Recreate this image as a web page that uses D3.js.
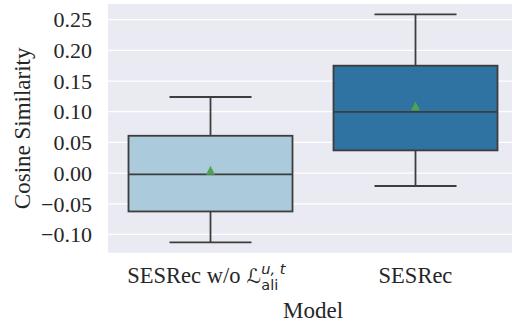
<!DOCTYPE html>
<html><head><meta charset="utf-8">
<script src="https://cdn.jsdelivr.net/npm/d3@7"></script>
<style>body{margin:0;background:#fff}svg{display:block}</style>
</head><body>
<script>
const categories = ["SESRec w/o", "SESRec"];
const whiskerLow = [-0.113, -0.021];
const q1 = [-0.0625, 0.037];
const median = [-0.002, 0.0999];
const q3 = [0.0608, 0.175];
const whiskerHigh = [0.124, 0.2587];
const means = [0.003, 0.1075];
const yTicks = [-0.10, -0.05, 0.00, 0.05, 0.10, 0.15, 0.20, 0.25];
const boxColors = ["#abcbdd", "#2e73a2"];

(function () {
const W = 512, H = 325;
const svg = d3.select("body").append("svg").attr("width", W).attr("height", H);
const pL = 108, pR = 518, pT = 4, pB = 252.7;
const x = d3.scaleBand().domain(d3.range(categories.length)).range([pL, pR]).paddingInner(0).paddingOuter(0);
const y = d3.scaleLinear().domain([-0.1297, 0.2755]).range([pB, pT]);
const font = "'Liberation Serif','Times New Roman',serif";

svg.append("rect").attr("x", pL).attr("y", pT).attr("width", pR - pL).attr("height", pB - pT).attr("fill", "#eaeaf2");
svg.append("g").selectAll("line").data(yTicks).join("line")
  .attr("x1", pL).attr("x2", pR).attr("y1", d => y(d)).attr("y2", d => y(d))
  .attr("stroke", "#fff").attr("stroke-width", 1.3);

const yAxis = d3.axisLeft(y).tickValues(yTicks).tickSize(0).tickPadding(16)
  .tickFormat(d => d3.format(".2f")(d).replace("-", "\u2212"));
const ga = svg.append("g").attr("transform", `translate(${pL},0)`).call(yAxis);
ga.select(".domain").remove();
ga.selectAll("text").attr("font-family", font).attr("font-size", 22).attr("fill", "#262626").attr("dy", "0.33em");

const bw = x.bandwidth() * 0.8;
const stroke = "#3d3d3d", sw = 1.8;
const g = svg.append("g");
categories.forEach((c, i) => {
  const cx = x(i) + x.bandwidth() / 2;
  g.append("line").attr("x1", cx).attr("x2", cx).attr("y1", y(whiskerHigh[i])).attr("y2", y(q3[i])).attr("stroke", stroke).attr("stroke-width", sw);
  g.append("line").attr("x1", cx).attr("x2", cx).attr("y1", y(q1[i])).attr("y2", y(whiskerLow[i])).attr("stroke", stroke).attr("stroke-width", sw);
  [whiskerHigh[i], whiskerLow[i]].forEach(v => g.append("line").attr("x1", cx - bw / 4).attr("x2", cx + bw / 4).attr("y1", y(v)).attr("y2", y(v)).attr("stroke", stroke).attr("stroke-width", sw));
  g.append("rect").attr("x", cx - bw / 2).attr("width", bw).attr("y", y(q3[i])).attr("height", y(q1[i]) - y(q3[i]))
    .attr("fill", boxColors[i]).attr("stroke", stroke).attr("stroke-width", sw);
  g.append("line").attr("x1", cx - bw / 2).attr("x2", cx + bw / 2).attr("y1", y(median[i])).attr("y2", y(median[i])).attr("stroke", stroke).attr("stroke-width", sw);
  const my = y(means[i]);
  g.append("path").attr("d", `M${cx},${my - 5.5}L${cx + 4.5},${my + 3.5}L${cx - 4.5},${my + 3.5}Z`).attr("fill", "#4fa350");
});

const lblY = 283;
const cx1 = x(1) + x.bandwidth() / 2;
svg.append("text").attr("x", cx1).attr("y", lblY).attr("text-anchor", "middle").attr("font-family", font).attr("font-size", 22.5).attr("fill", "#262626").text(categories[1]);

const lab = svg.append("g").attr("transform", "translate(127.3,0)");
const t0 = lab.append("text").attr("x", 0).attr("y", lblY).attr("font-family", font).attr("font-size", 22.5).attr("fill", "#262626").text(categories[0]);
const w0 = t0.node().getComputedTextLength() + 6;
const L = lab.append("text").attr("x", w0).attr("y", lblY).attr("font-family", "'DejaVu Sans',sans-serif").attr("font-style", "italic").attr("font-size", 20).attr("fill", "#262626").text("\u2112");
const wL = L.node().getComputedTextLength();
const sx = w0 + wL + 0.5;
lab.append("text").attr("x", sx).attr("y", lblY - 9).attr("font-family", "'DejaVu Sans',sans-serif").attr("font-style", "italic").attr("font-size", 14.5).attr("fill", "#262626").text("u, t");
lab.append("text").attr("x", sx).attr("y", lblY + 6.5).attr("font-family", "'DejaVu Sans',sans-serif").attr("font-size", 14.5).attr("fill", "#262626").text("ali");

svg.append("text").attr("x", (pL + pR) / 2).attr("y", 318).attr("text-anchor", "middle").attr("font-family", font).attr("font-size", 23).attr("fill", "#262626").text("Model");
svg.append("text").attr("transform", `translate(30,${(pT + pB) / 2}) rotate(-90)`).attr("text-anchor", "middle").attr("font-family", font).attr("font-size", 23).attr("fill", "#262626").text("Cosine Similarity");
})();
</script>
</body></html>
